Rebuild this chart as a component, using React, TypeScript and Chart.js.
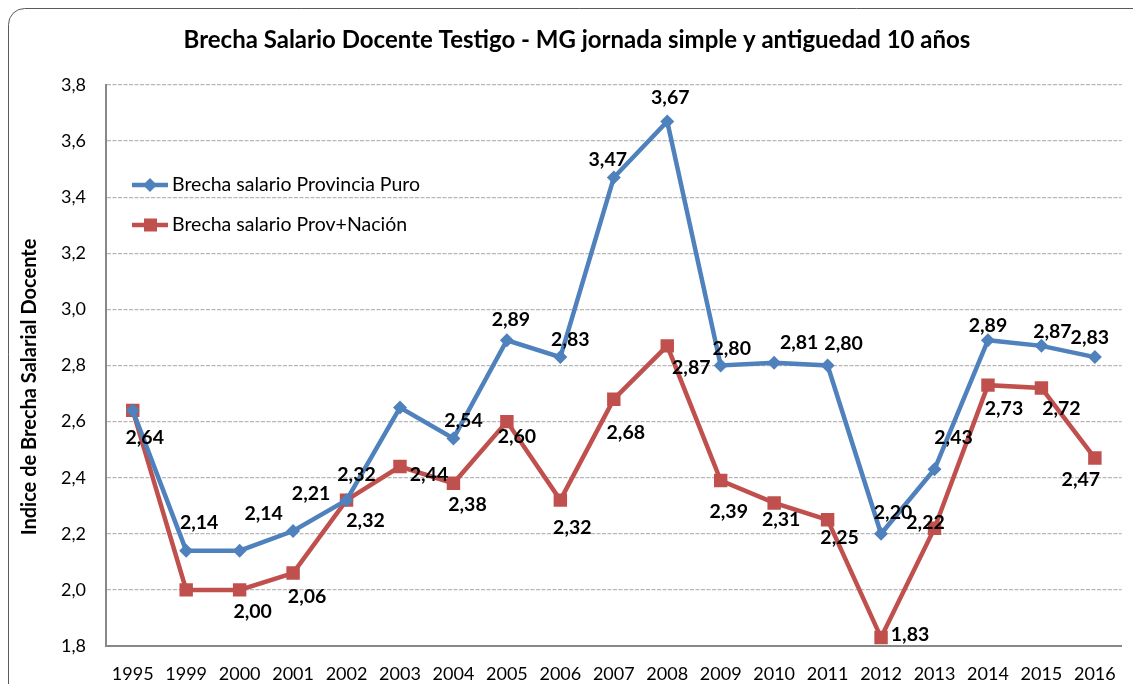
import { useEffect, useRef } from 'react';
import { Chart, registerables } from 'chart.js';

Chart.register(...registerables);

const years = ['1995', '1999', '2000', '2001', '2002', '2003', '2004', '2005', '2006', '2007', '2008', '2009', '2010', '2011', '2012', '2013', '2014', '2015', '2016'];
const provinciaPuro = [2.64, 2.14, 2.14, 2.21, 2.32, 2.65, 2.54, 2.89, 2.83, 3.47, 3.67, 2.80, 2.81, 2.80, 2.20, 2.43, 2.89, 2.87, 2.83];
const provNacion = [2.64, 2.00, 2.00, 2.06, 2.32, 2.44, 2.38, 2.60, 2.32, 2.68, 2.87, 2.39, 2.31, 2.25, 1.83, 2.22, 2.73, 2.72, 2.47];
const seriesNames = ['Brecha salario Provincia Puro', 'Brecha salario Prov+Nación'];
const titleText = 'Brecha Salario Docente Testigo - MG jornada simple y antiguedad 10 años';
const yAxisTitle = 'Indice de Brecha Salarial Docente';
const yMin = 1.8;
const yMax = 3.8;
const yStep = 0.2;

// label placement offsets (style only), null = no label
const blueLabelOffsets: ([number, number] | null)[] = [null, [13, -28], [24, -37], [18, -37], [10, -25], null, [10, -18], [4, -21], [10, -17], [-6, -18], [3, -24], [11, -17], [25, -20], [16, -22], [12, -21], [19, -32], [0, -15], [11, -14], [-5, -19]];
const redLabelOffsets: ([number, number] | null)[] = [[12, 27], null, [13, 22], [14, 24], [19, 21], [29, 8], [14, 21], [10, 15], [12, 28], [12, 34], [24, 22], [8, 31], [7, 17], [12, 18], [29, -3], [-9, -5], [16, 24], [20, 21], [-14, 22]];

const BLUE = '#4F81BD';
const RED = '#C0504D';
const FONT = 'Lato';

const fmt = (v: number) => v.toFixed(2).replace('.', ',');

const framePlugin = {
  id: 'frame',
  beforeDraw(chart: any) {
    const ctx = chart.ctx;
    ctx.save();
    ctx.fillStyle = '#ffffff';
    ctx.fillRect(0, 0, chart.width, chart.height);
    ctx.beginPath();
    ctx.strokeStyle = '#5a5a5a';
    ctx.lineWidth = 1;
    ctx.roundRect(0.5, 0.5, chart.width + 40, chart.height + 40, 16);
    ctx.stroke();
    // title
    ctx.fillStyle = '#000';
    ctx.font = `bold 24px ${FONT}`;
    ctx.textAlign = 'center';
    ctx.textBaseline = 'middle';
    ctx.fillText(titleText, 569, 32);
    // y axis title
    ctx.save();
    ctx.translate(22, 379);
    ctx.rotate(-Math.PI / 2);
    ctx.font = `bold 20px ${FONT}`;
    ctx.fillText(yAxisTitle, 0, 0);
    ctx.restore();
    ctx.restore();
  },
};

const labelsPlugin = {
  id: 'dataLabels',
  afterDatasetsDraw(chart: any) {
    const ctx = chart.ctx;
    const offsets = [blueLabelOffsets, redLabelOffsets];
    ctx.save();
    ctx.font = `bold 19.5px ${FONT}`;
    ctx.fillStyle = '#000';
    ctx.textAlign = 'center';
    ctx.textBaseline = 'middle';
    chart.data.datasets.forEach((ds: any, di: number) => {
      const meta = chart.getDatasetMeta(di);
      meta.data.forEach((pt: any, i: number) => {
        const off = offsets[di][i];
        if (!off) return;
        ctx.fillText(fmt(ds.data[i]), pt.x + off[0], pt.y + off[1]);
      });
    });
    ctx.restore();
  },
};

const legendPlugin = {
  id: 'insideLegend',
  afterDraw(chart: any) {
    const ctx = chart.ctx;
    const items = [
      { text: seriesNames[0], color: BLUE, style: 'rectRot' },
      { text: seriesNames[1], color: RED, style: 'rect' },
    ];
    ctx.save();
    items.forEach((it, k) => {
      const y = 177 + k * 40;
      ctx.strokeStyle = it.color;
      ctx.lineWidth = 4.5;
      ctx.beginPath();
      ctx.moveTo(124, y);
      ctx.lineTo(160, y);
      ctx.stroke();
      ctx.fillStyle = it.color;
      ctx.beginPath();
      if (it.style === 'rectRot') {
        ctx.moveTo(142, y - 7);
        ctx.lineTo(149, y);
        ctx.lineTo(142, y + 7);
        ctx.lineTo(135, y);
        ctx.closePath();
      } else {
        ctx.rect(136, y - 6.5, 13, 13);
      }
      ctx.fill();
      ctx.fillStyle = '#000';
      ctx.font = `19.5px ${FONT}`;
      ctx.textAlign = 'left';
      ctx.textBaseline = 'middle';
      ctx.fillText(it.text, 164, y);
    });
    ctx.restore();
  },
};

export default function App() {
  const ref = useRef<HTMLCanvasElement>(null);
  useEffect(() => {
    if (!ref.current) return;
    const chart = new Chart(ref.current, {
      type: 'line',
      data: {
        labels: years,
        datasets: [
          {
            label: seriesNames[0],
            data: provinciaPuro,
            borderColor: BLUE,
            backgroundColor: BLUE,
            borderWidth: 4.5,
            pointStyle: 'rectRot',
            pointRadius: 7,
            pointBorderWidth: 0,
            tension: 0,
          },
          {
            label: seriesNames[1],
            data: provNacion,
            borderColor: RED,
            backgroundColor: RED,
            borderWidth: 4.5,
            pointStyle: 'rect',
            pointRadius: 9.5,
            pointBorderWidth: 0,
            tension: 0,
          },
        ],
      },
      options: {
        responsive: false,
        devicePixelRatio: 1,
        animation: false,
        layout: { padding: { top: 77, left: 0, right: 0, bottom: 0 } },
        plugins: {
          legend: { display: false },
          tooltip: { enabled: false },
          title: { display: false },
        },
        scales: {
          x: {
            offset: true,
            grid: { display: false, drawTicks: false },
            border: { display: true, color: '#888888', width: 2 },
            ticks: { color: '#000', font: { family: FONT, size: 18 }, padding: 17, maxRotation: 0, autoSkip: false },
            afterFit: (s: any) => { s.height = 38; },
          },
          y: {
            min: yMin,
            max: yMax,
            grid: { color: '#b8b8b8', lineWidth: 1.3, drawTicks: false },
            border: { display: true, color: '#888888', width: 2, dash: [4, 1.5] },
            ticks: {
              stepSize: yStep,
              color: '#000',
              padding: 20,
              font: { family: FONT, size: 18 },
              callback: (v: any) => Number(v).toFixed(1).replace('.', ','),
            },
            title: { display: false },
            afterFit: (s: any) => { s.width = 98; },
          },
        },
      },
      plugins: [framePlugin, labelsPlugin, legendPlugin],
    } as any);
    return () => chart.destroy();
  }, []);
  return (
    <div style={{ position: 'fixed', left: 8, top: 8, width: 1125, height: 676 }}>
      <canvas ref={ref} width={1125} height={676} style={{ width: 1125, height: 676, display: 'block' }} />
    </div>
  );
}
